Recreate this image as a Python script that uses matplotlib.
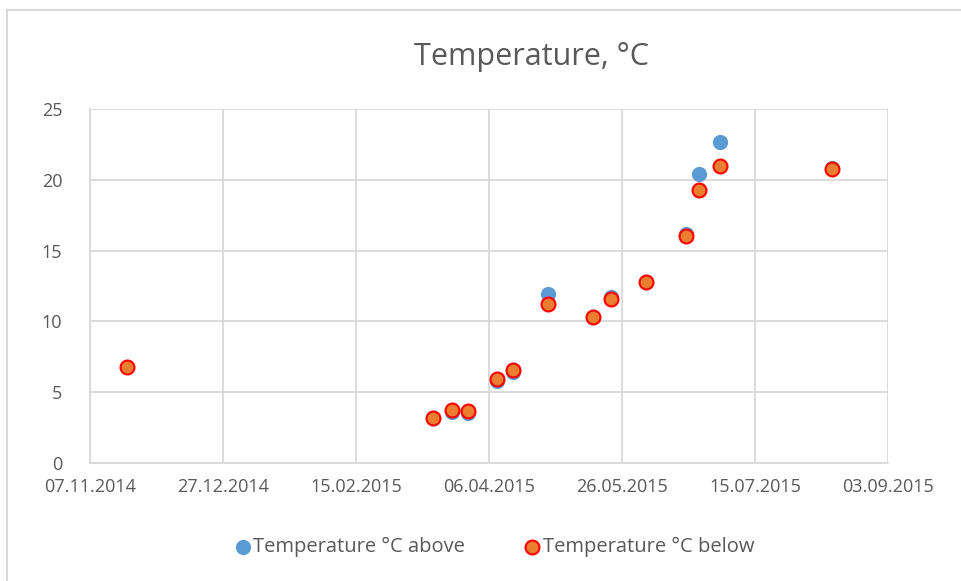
import numpy as np
import matplotlib.pyplot as plt
import matplotlib.dates as mdates

plt.rcParams['font.family'] = ['Open Sans', 'DejaVu Sans']

# measurement dates and temperatures (°C)
dates = np.array(['2014-11-21', '2015-03-16', '2015-03-23', '2015-03-29',
                  '2015-04-09', '2015-04-15', '2015-04-28', '2015-05-15',
                  '2015-05-22', '2015-06-04', '2015-06-19', '2015-06-24',
                  '2015-07-02', '2015-08-13'], dtype='datetime64[D]')
temp_above = [6.8, 3.15, 3.6, 3.55, 5.8, 6.45, 11.9, 10.3, 11.7, 12.8,
              16.15, 20.4, 22.65, 20.85]
temp_below = [6.8, 3.2, 3.75, 3.65, 5.95, 6.55, 11.2, 10.3, 11.6, 12.8,
              16.05, 19.25, 21.0, 20.75]
xticks = np.array(['2014-11-07', '2014-12-27', '2015-02-15', '2015-04-06',
                   '2015-05-26', '2015-07-15', '2015-09-03'], dtype='datetime64[D]')

grey = '#595959'
grid = '#D9D9D9'

fig = plt.figure(figsize=(9.61, 5.81), dpi=100)
ax = fig.add_axes([90/961, 1 - 463/581, 798/961, 354/581])

x = mdates.date2num(dates.astype('datetime64[s]').astype(object))
xt = mdates.date2num(xticks.astype('datetime64[s]').astype(object))

ax.scatter(x, temp_above, s=120, color='#5B9BD5', linewidths=0, zorder=3,
           label='Temperature °C above')
ax.scatter(x, temp_below, s=100, color='#ED7D31', edgecolors='#FF0000',
           linewidths=1.5, zorder=4, label='Temperature °C below')

ax.set_xlim(xt[0], xt[-1])
ax.set_ylim(0, 25)
ax.set_xticks(xt)
ax.set_xticklabels([str(d.astype(object).strftime('%d.%m.%Y')) for d in xticks])
ax.set_yticks(range(0, 26, 5))
ax.grid(True, color=grid, linewidth=1.3)
ax.set_axisbelow(True)
for s in ax.spines.values():
    s.set_visible(False)
ax.spines['left'].set_visible(True)
ax.spines['left'].set_color(grid)
ax.spines['left'].set_linewidth(1.3)
ax.spines['bottom'].set_visible(True)
ax.spines['bottom'].set_color(grid)
ax.spines['bottom'].set_linewidth(1.3)
ax.tick_params(length=0, labelsize=13, colors=grey, pad=11)
ax.tick_params(axis='y', pad=20)

fig.text(531/961, 1 - 57/581, 'Temperature, °C', ha='center', va='center',
         fontsize=22, color=grey)

leg = fig.legend(loc='center', bbox_to_anchor=(494/961, 1 - 547/581), ncol=2,
                 frameon=False, fontsize=14.5, handletextpad=0.05,
                 handlelength=0.9, columnspacing=2.9, markerscale=1.0)
for t in leg.get_texts():
    t.set_color(grey)

# chart frame
fig.add_artist(plt.Line2D([7/961, 7/961], [0, 1 - 10/581], color=grid,
                          linewidth=1.5, transform=fig.transFigure))
fig.add_artist(plt.Line2D([7/961, 1], [1 - 10/581, 1 - 10/581], color=grid,
                          linewidth=1.5, transform=fig.transFigure))

fig.savefig('out.png', dpi=100)
